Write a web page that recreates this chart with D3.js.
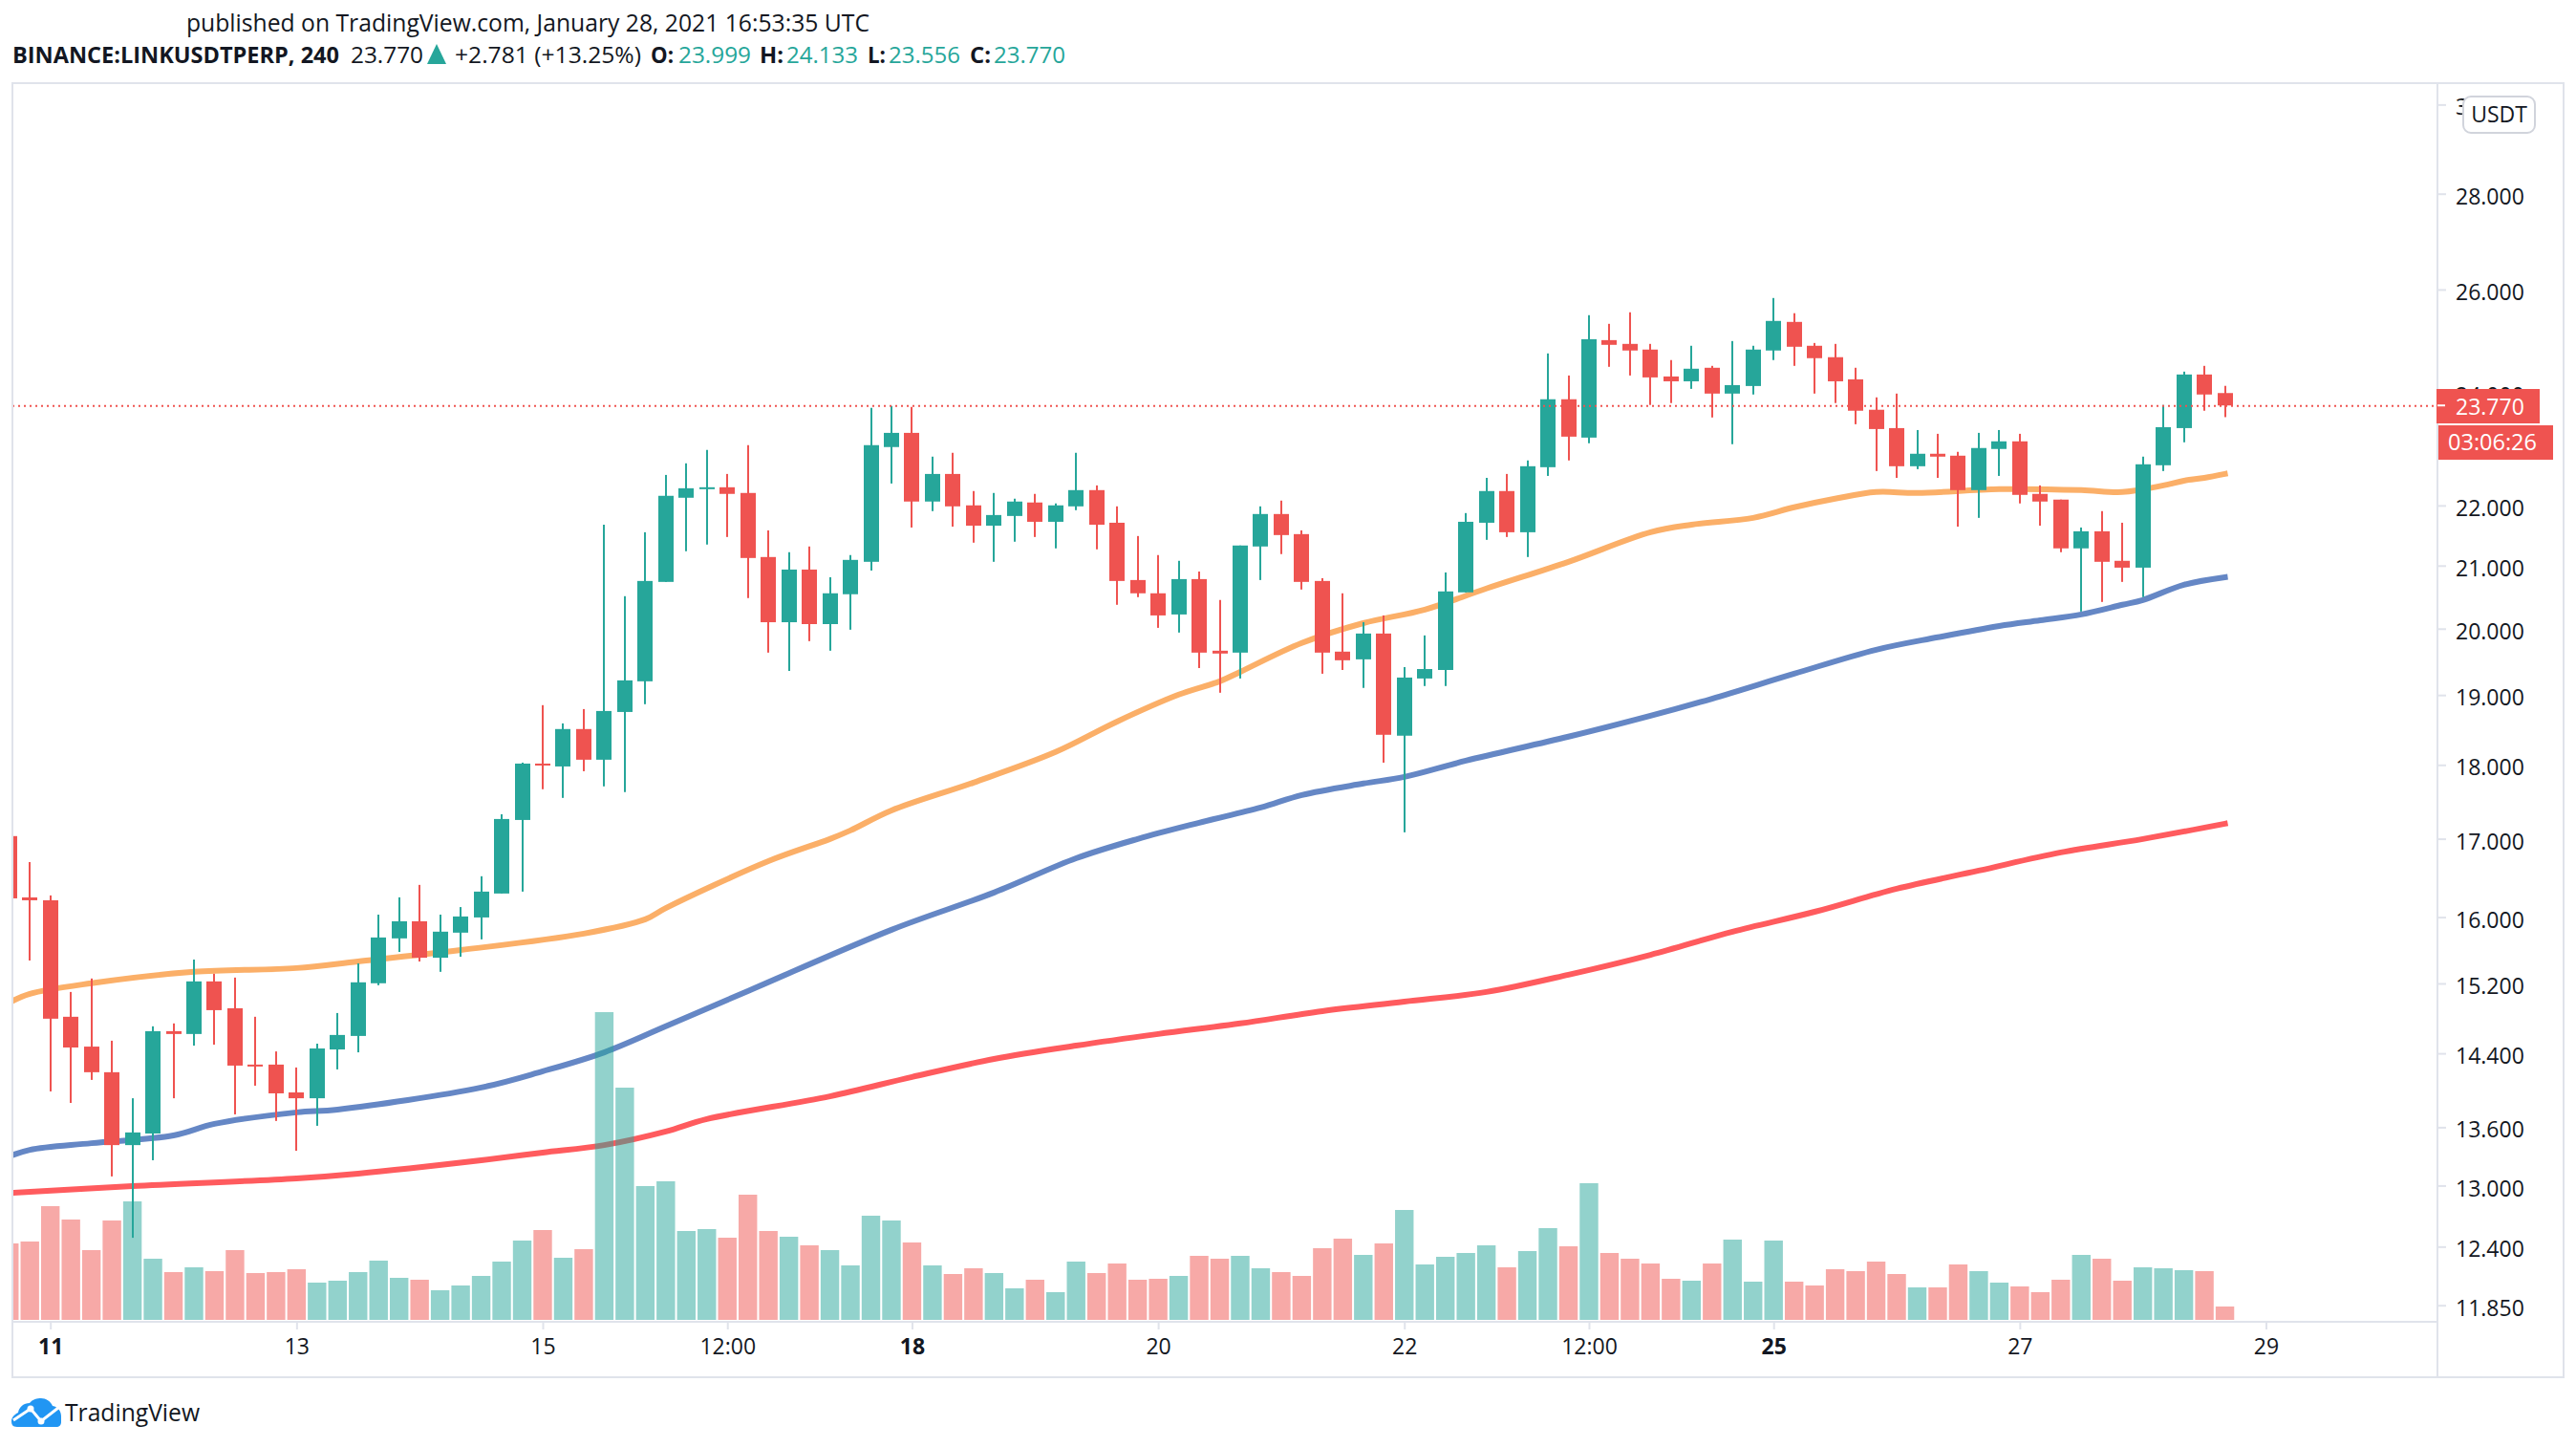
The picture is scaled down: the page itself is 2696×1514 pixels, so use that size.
<!DOCTYPE html>
<html><head><meta charset="utf-8">
<script src="https://cdnjs.cloudflare.com/ajax/libs/d3/7.8.5/d3.min.js"></script>
<style>html,body{margin:0;padding:0;background:#fff}svg{display:block}text{font-family:"Open Sans",sans-serif}</style>
</head><body><div id="chart"></div>
<script>
const firstBar=-2;
const opens=[17.035,16.246,16.210,14.813,14.475,14.191,13.413,13.534,14.649,14.617,15.224,14.911,14.275,14.275,13.971,13.908,14.443,14.595,15.202,15.739,15.949,15.505,15.809,15.996,16.295,17.249,18.018,17.978,18.506,18.072,18.752,19.202,20.737,22.132,22.279,22.312,22.214,21.140,20.100,20.936,20.071,20.540,21.062,23.017,23.271,22.067,22.543,22.002,21.659,21.822,22.051,21.724,21.985,22.263,21.708,20.767,20.555,20.221,20.782,19.662,19.633,21.313,21.855,21.518,20.752,19.648,19.531,19.925,18.411,19.244,19.371,20.570,21.708,22.247,21.549,22.661,23.884,23.186,25.002,24.929,24.820,24.309,24.218,24.473,23.989,24.130,24.802,25.357,24.893,24.674,24.255,23.691,23.357,22.678,22.898,22.864,22.263,22.983,23.119,22.198,22.100,21.282,21.565,21.078,20.967,22.695,23.357,24.346,23.999];
const highs=[17.035,16.696,16.271,15.100,15.258,14.541,13.908,14.704,14.737,15.483,15.314,15.269,14.813,14.421,14.243,14.508,14.856,15.438,16.031,16.247,16.404,16.031,16.125,16.514,17.325,18.031,18.851,18.587,18.794,21.675,20.509,21.549,22.526,22.729,22.966,22.543,23.051,21.580,21.219,21.313,20.812,21.172,23.726,23.761,23.743,22.847,22.915,22.247,22.214,22.116,22.198,22.035,22.915,22.344,21.985,21.486,21.172,21.078,20.904,20.449,21.329,21.985,22.083,21.580,20.797,20.555,20.100,20.206,19.414,19.896,20.889,21.871,22.475,22.543,22.780,24.746,24.327,25.489,25.319,25.546,24.929,24.619,24.893,24.509,24.984,24.893,25.830,25.528,24.947,24.929,24.473,23.919,23.989,23.322,23.254,22.932,23.271,23.322,23.254,22.344,22.100,21.628,21.904,21.708,22.847,23.779,24.400,24.509,24.133];
const lows=[16.234,15.472,13.982,13.858,14.107,13.092,12.485,13.257,13.908,14.486,14.497,13.736,14.044,13.666,13.354,13.615,14.222,14.411,15.179,15.575,15.460,15.337,15.517,15.727,16.295,16.319,17.664,17.546,17.912,17.703,17.625,18.865,20.737,21.235,21.345,21.470,20.479,19.633,19.357,19.808,19.662,19.984,20.920,22.377,21.628,21.904,21.643,21.376,21.062,21.392,21.470,21.282,21.920,21.266,20.373,20.494,20.013,19.940,19.400,19.033,19.244,20.767,21.188,20.615,19.315,19.371,19.104,18.031,17.085,19.132,19.132,20.570,21.423,21.470,21.140,22.509,22.780,23.085,24.491,24.327,23.779,23.814,24.077,23.550,23.068,23.972,24.619,24.509,23.989,23.814,23.427,22.594,22.475,22.627,22.475,21.643,21.790,22.509,22.035,21.659,21.219,20.267,20.418,20.737,20.494,22.594,23.102,23.673,23.556];
const closes=[16.234,16.210,14.791,14.465,14.191,13.413,13.545,14.649,14.617,15.224,14.889,14.264,14.254,13.961,13.908,14.454,14.606,15.213,15.750,15.949,15.505,15.821,16.008,16.319,17.262,18.018,17.991,18.506,18.072,18.766,19.216,20.752,22.165,22.295,22.312,22.198,21.124,20.100,20.936,20.071,20.555,21.093,23.051,23.271,22.067,22.543,21.985,21.659,21.838,22.067,21.724,22.002,22.263,21.675,20.752,20.555,20.206,20.782,19.633,19.619,21.329,21.855,21.502,20.737,19.633,19.517,19.925,18.424,19.258,19.385,20.585,21.724,22.247,21.549,22.678,23.884,23.203,25.020,24.911,24.802,24.291,24.218,24.455,23.989,24.147,24.820,25.376,24.874,24.655,24.218,23.673,23.340,22.678,22.898,22.847,22.263,23.000,23.119,22.181,22.067,21.282,21.565,21.062,20.967,22.712,23.374,24.346,23.972,23.770];
const volumes=[240,246,357,315,219,312,372,192,150,165,153,219,147,150,159,117,123,150,186,132,126,93,108,138,183,249,282,195,222,966,729,420,435,279,285,258,393,279,261,234,219,171,327,312,243,171,144,162,147,99,126,87,183,147,177,126,129,138,201,192,201,162,150,138,225,255,204,240,345,174,198,210,234,165,216,288,231,429,210,192,177,129,123,177,252,120,249,120,108,159,153,183,144,102,102,174,153,117,105,87,126,204,192,123,165,162,156,153,42];
const emaFastBars=[-2,-1,2,7,12,15,20,26,29,30,35,38,39,41,45,49,52,55,57,58,61,64,67,70,74,78,80,83,85,87,89,91,95,99,101,103,104,105,106];
const emaFast=[14.976,15.078,15.202,15.337,15.382,15.460,15.598,15.797,15.973,16.113,16.708,16.997,17.110,17.376,17.755,18.180,18.614,19.005,19.202,19.343,19.779,20.086,20.297,20.631,21.062,21.549,21.675,21.790,21.969,22.116,22.230,22.214,22.279,22.263,22.230,22.344,22.426,22.475,22.543];
const emaMidBars=[-2,-1,2,6,8,12,14,21,24,27,30,34,41,46,50,53,56,59,61,64,66,69,74,78,81,85,89,92,95,97,99,101,102,104,106];
const emaMid=[13.296,13.364,13.433,13.514,13.635,13.757,13.787,14.024,14.201,14.411,14.704,15.111,15.844,16.307,16.745,16.997,17.212,17.415,17.585,17.742,17.834,18.058,18.397,18.696,18.946,19.315,19.677,19.867,20.042,20.130,20.221,20.373,20.449,20.691,20.812];
const emaSlowBars=[-2,4,12,15,21,24,27,30,32,38,42,46,50,54,58,62,66,70,74,78,82,86,90,94,98,102,106];
const emaSlow=[12.926,12.994,13.072,13.121,13.257,13.335,13.413,13.555,13.686,13.929,14.139,14.337,14.486,14.617,14.737,14.878,14.987,15.100,15.303,15.540,15.821,16.066,16.355,16.586,16.821,16.997,17.199];
const priceTicks=[30,28,26,24,22,21,20,19,18,17,16,15.2,14.4,13.6,13,12.4,11.85];
const timeTickBars=[0,12,24,33,42,54,66,75,84,96,108];
const timeTickLabels=["11","13","15","12:00","18","20","22","12:00","25","27","29"];
const boldTimeLabels=["11","18","25"];
const lastPrice=23.770;
const countdown="03:06:26";
const headerTitle="published on TradingView.com, January 28, 2021 16:53:35 UTC";

const INK="#131722",UP="#26A69A",DOWN="#EF5350",FRAME="#E0E3EB",FONT='"Open Sans",sans-serif';
const W=2696,H=1514;
const L=13,T=87,R=2551,B=1383,OR=2683,OB=1441;
const svg=d3.select("#chart").append("svg").attr("width",W).attr("height",H).attr("viewBox",`0 0 ${W} ${H}`);
const x=d3.scaleLinear().domain([0,108]).range([52.7,2371.5]);
const y=d3.scaleLog().domain([28,11.85]).range([202.7,1365.7]);
const vy=d3.scaleLinear().domain([0,966]).range([1381,1059]);
const bars=opens.map((o,k)=>({i:firstBar+k,o,h:highs[k],l:lows[k],c:closes[k],v:volumes[k],up:closes[k]>=o}));

svg.append("defs").append("clipPath").attr("id","plot").append("rect").attr("x",L+1).attr("y",T).attr("width",R-L-1).attr("height",B-T-1);
const plot=svg.append("g").attr("clip-path","url(#plot)");

const lineOf=(bs,vs,col,w)=>{
  const g=d3.line().x(d=>x(d[0])).y(d=>y(d[1])).curve(d3.curveCatmullRom.alpha(0.5));
  plot.append("path").attr("d",g(bs.map((b,k)=>[b,vs[k]]))).attr("fill","none").attr("stroke",col).attr("stroke-width",w).attr("stroke-linecap","square");
};
lineOf(emaSlowBars,emaSlow,"#FF5B5E",6);
lineOf(emaMidBars,emaMid,"#6587C5",6);
lineOf(emaFastBars,emaFast,"#FBAF68",6);

plot.append("g").selectAll("rect").data(bars).join("rect")
  .attr("x",d=>Math.round(x(d.i))-1).attr("width",2)
  .attr("y",d=>y(d.h)).attr("height",d=>Math.max(0,y(d.l)-y(d.h)))
  .attr("fill",d=>d.up?UP:DOWN);
plot.append("g").selectAll("rect").data(bars).join("rect")
  .attr("x",d=>Math.round(x(d.i))-8).attr("width",16)
  .attr("y",d=>y(Math.max(d.o,d.c))).attr("height",d=>Math.max(2,y(Math.min(d.o,d.c))-y(Math.max(d.o,d.c))))
  .attr("fill",d=>d.up?UP:DOWN);
plot.append("g").selectAll("rect").data(bars).join("rect")
  .attr("x",d=>x(d.i)-9.7).attr("width",19.4)
  .attr("y",d=>vy(d.v)).attr("height",d=>vy(0)-vy(d.v))
  .attr("fill",d=>d.up?UP:DOWN).attr("fill-opacity",.5);

plot.append("line").attr("x1",L).attr("x2",R).attr("y1",y(lastPrice)+0.5).attr("y2",y(lastPrice)+0.5)
  .attr("stroke",DOWN).attr("stroke-width",2).attr("stroke-dasharray","2 4");

// frame
const frame=svg.append("g").attr("fill","none").attr("stroke",FRAME).attr("stroke-width",2);
frame.append("rect").attr("x",L).attr("y",T).attr("width",OR-L).attr("height",OB-T);
frame.append("line").attr("x1",R).attr("x2",R).attr("y1",T).attr("y2",OB);

// axes
const ay=svg.append("g").attr("transform",`translate(${R},0)`)
  .call(d3.axisRight(y).tickValues(priceTicks).tickFormat(d3.format(".3f")).tickSize(9).tickPadding(10));
ay.select(".domain").remove();
ay.selectAll("line").attr("stroke",FRAME).attr("stroke-width",2);
ay.selectAll("text").attr("fill",INK).style("font-family",FONT).style("font-size","23px").attr("dy","0.46em");

const ax=svg.append("g").attr("transform",`translate(0,${B})`)
  .call(d3.axisBottom(x).tickValues(timeTickBars).tickFormat((d,k)=>timeTickLabels[k]).tickSize(8).tickPadding(10));
ax.select(".domain").attr("stroke",FRAME).attr("stroke-width",2).attr("d",`M${L},0H${R}`);
ax.selectAll("line").attr("stroke",FRAME).attr("stroke-width",2);
ax.selectAll("text").attr("fill",INK).style("font-family",FONT).style("font-size","23px")
  .style("font-weight",(d,k)=>boldTimeLabels.includes(timeTickLabels[k])?700:400);

// scale button
svg.append("rect").attr("x",2578).attr("y",101).attr("width",75).attr("height",38).attr("rx",8)
  .attr("fill","#fff").attr("stroke","#D1D4DC").attr("stroke-width",2);
svg.append("text").attr("x",2615.5).attr("y",128).attr("text-anchor","middle").attr("fill",INK).style("font-size","23px").text("USDT");

// last price tags
const yl=y(lastPrice);
svg.append("rect").attr("x",2550).attr("y",407).attr("width",108).attr("height",36).attr("fill",DOWN);
svg.append("line").attr("x1",2551).attr("x2",2559).attr("y1",yl).attr("y2",yl).attr("stroke","#fff").attr("stroke-width",2);
svg.append("text").attr("x",2570).attr("y",434).attr("fill","#fff").style("font-size","23px").text(lastPrice.toFixed(3));
svg.append("rect").attr("x",2552).attr("y",445).attr("width",120).attr("height",36).attr("fill",DOWN);
svg.append("text").attr("x",2562).attr("y",471).attr("fill","#fff").style("font-size","23px").attr("textLength",93).attr("lengthAdjust","spacingAndGlyphs").text(countdown);

// header
svg.append("text").attr("x",195).attr("y",33).attr("fill",INK).style("font-size","25px").attr("textLength",715).attr("lengthAdjust","spacingAndGlyphs").text(headerTitle);
const hdr=[
 [13,"BINANCE:LINKUSDTPERP, 240",INK,700,342],[367,"23.770",INK,400,76],[476,"+2.781 (+13.25%)",INK,400,195],
 [681,"O:",INK,700,24],[710,"23.999",UP,400,76],[795,"H:",INK,700,25],[823,"24.133",UP,400,75],
 [908,"L:",INK,700,19],[930,"23.556",UP,400,75],[1015,"C:",INK,700,22],[1040,"23.770",UP,400,75]];
svg.append("g").selectAll("text").data(hdr).join("text").attr("x",d=>d[0]).attr("y",66)
  .attr("fill",d=>d[2]).style("font-weight",d=>d[3]).style("font-size","24px")
  .attr("textLength",d=>d[4]).attr("lengthAdjust","spacingAndGlyphs").text(d=>d[1]);
svg.append("path").attr("d","M447,67L457,46L467,67Z").attr("fill",UP);

// logo
const logo=svg.append("g").attr("transform","translate(12,1463)");
logo.append("path").attr("fill","#2196F3").attr("d","M6,30C1,30,0,27,0,24C0,20,3,17,7,15C8,9,13,5,19,5C22,1,27,0,31,0C36,0,41,3,43,8C49,9,52,14,52,19L52,25C52,28,50,30,47,30Z");
logo.append("polyline").attr("fill","none").attr("stroke","#fff").attr("stroke-width",3).attr("points","2,23 20,11 31,24 49,10");
logo.selectAll("circle").data([[20,11],[31,24]]).join("circle").attr("cx",d=>d[0]).attr("cy",d=>d[1]).attr("r",3.5).attr("fill","#fff");
svg.append("text").attr("x",68).attr("y",1487).attr("fill",INK).style("font-size","26px").attr("textLength",141).attr("lengthAdjust","spacingAndGlyphs").text("TradingView");
</script></body></html>
